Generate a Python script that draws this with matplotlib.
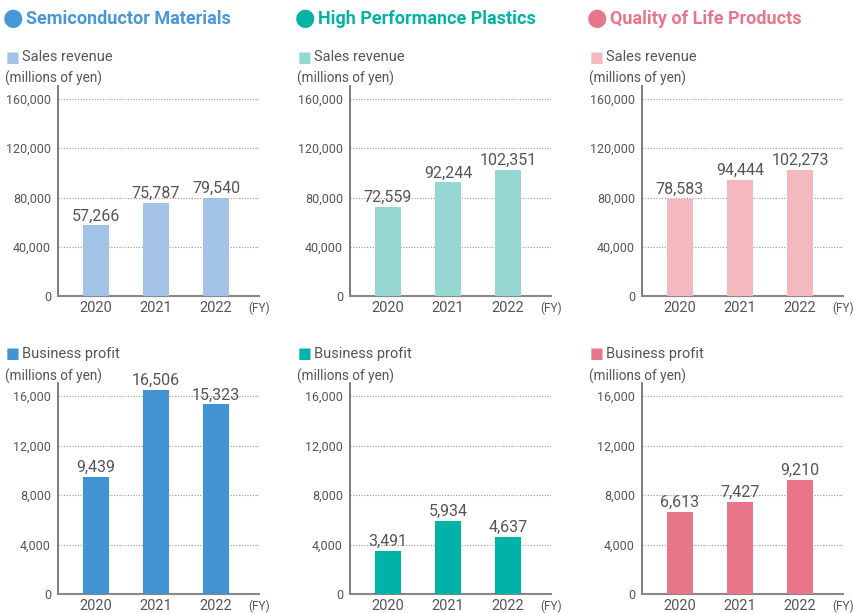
import matplotlib.pyplot as plt
from matplotlib.ticker import FuncFormatter

years = ["2020", "2021", "2022"]
segments = ["Semiconductor Materials", "High Performance Plastics", "Quality of Life Products"]

sales_semi = [57266, 75787, 79540]
sales_hpp = [72559, 92244, 102351]
sales_qol = [78583, 94444, 102273]

profit_semi = [9439, 16506, 15323]
profit_hpp = [3491, 5934, 4637]
profit_qol = [6613, 7427, 9210]

sales_ticks = [0, 40000, 80000, 120000, 160000]
profit_ticks = [0, 4000, 8000, 12000, 16000]

title_colors = ["#4897d6", "#00b3a5", "#e8768a"]
light_colors = ["#a3c3e6", "#97d7d1", "#f3b9bf"]
dark_colors = ["#4193d1", "#00b3a8", "#e87589"]

W, H = 854, 613
TXT = "#555555"
plt.rcParams['font.family'] = ['Roboto', 'DejaVu Sans']

fig = plt.figure(figsize=(W / 100, H / 100), dpi=100)


def px(x, y):
    return x / W, 1 - y / H


def draw_panel(ax, values, ticks, color):
    xs = range(len(years))
    ax.bar(xs, values, width=0.43, color=color, zorder=3)
    top = ticks[-1]
    ax.set_ylim(0, top * (1 + 13 / 197))
    ax.set_xlim(-0.633, 2.717)
    ax.set_yticks(ticks)
    ax.yaxis.set_major_formatter(FuncFormatter(lambda v, p: f"{int(v):,}"))
    ax.set_xticks(list(xs))
    ax.set_xticklabels(years, fontsize=10.5, color=TXT)
    ax.tick_params(axis="both", length=0, colors=TXT)
    ax.tick_params(axis="y", labelsize=9, pad=5)
    ax.tick_params(axis="x", pad=3.5)
    for t in ticks[1:]:
        ax.axhline(t, color="#999999", lw=0.8, ls=(0, (1, 1.5)), zorder=1)
    for s in ["top", "right"]:
        ax.spines[s].set_visible(False)
    ax.spines["left"].set_color("#666666")
    ax.spines["left"].set_linewidth(1.2)
    ax.spines["bottom"].set_color("#888888")
    ax.spines["bottom"].set_linewidth(1.5)
    for x, v in zip(xs, values):
        ax.text(x, v + top * 0.01, f"{v:,}", ha="center", va="bottom", fontsize=11.5, color=TXT, zorder=4)
    ax.text(1.0, -12.5 / 210, "(FY)", transform=ax.transAxes, ha="center", va="center", fontsize=8.5, color=TXT)


sales = [sales_semi, sales_hpp, sales_qol]
profits = [profit_semi, profit_hpp, profit_qol]

for i in range(3):
    off = 292 * i
    left = (58 + off) / W
    width = 201 / W
    # top row: sales revenue
    ax1 = fig.add_axes([left, 1 - 296 / H, width, (296 - 86) / H])
    draw_panel(ax1, sales[i], sales_ticks, light_colors[i])
    # bottom row: business profit
    ax2 = fig.add_axes([left, 1 - 594 / H, width, (594 - 383) / H])
    draw_panel(ax2, profits[i], profit_ticks, dark_colors[i])

    # segment title
    fig.text(*px(13 + off, 18), "\u25CF", fontsize=17, color=title_colors[i], ha="center", va="center",
             family="DejaVu Sans")
    fig.text(*px(26 + off, 19), segments[i], fontsize=13, fontweight="bold", color=title_colors[i],
             ha="left", va="center")

    # legends and unit labels
    fig.text(*px(12.5 + off, 57), "\u25A0", fontsize=10.5, color=light_colors[i], ha="center", va="center",
             family="DejaVu Sans")
    fig.text(*px(22 + off, 57), "Sales revenue", fontsize=10.5, color=TXT, ha="left", va="center")
    fig.text(*px(5 + off, 78), "(millions of yen)", fontsize=9.8, color=TXT, ha="left", va="center")

    fig.text(*px(12.5 + off, 354), "\u25A0", fontsize=10.5, color=dark_colors[i], ha="center", va="center",
             family="DejaVu Sans")
    fig.text(*px(22 + off, 354), "Business profit", fontsize=10.5, color=TXT, ha="left", va="center")
    fig.text(*px(5 + off, 376), "(millions of yen)", fontsize=9.8, color=TXT, ha="left", va="center")

fig.savefig("out.png", dpi=100)
